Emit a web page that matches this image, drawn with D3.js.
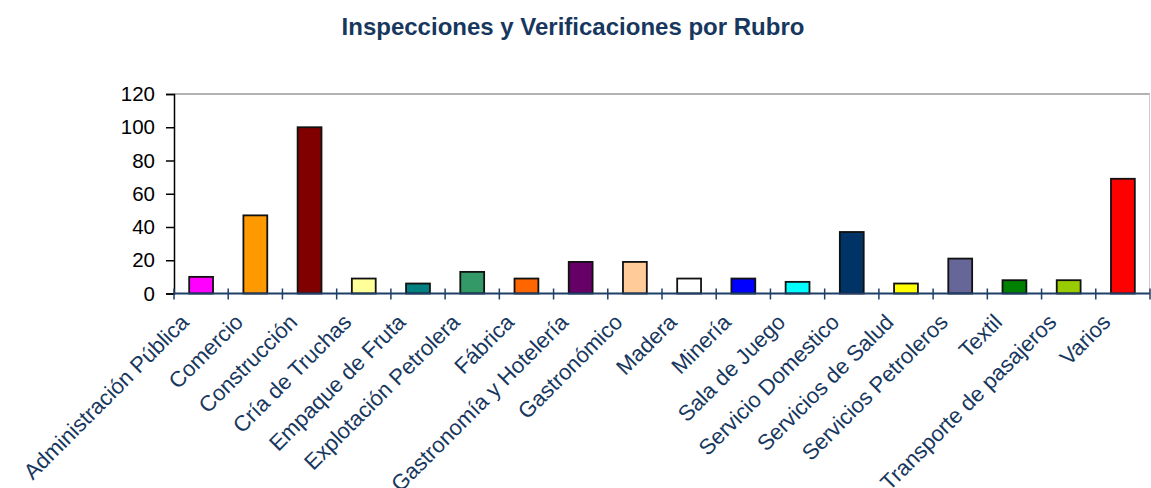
<!DOCTYPE html>
<html><head><meta charset="utf-8">
<script src="https://cdn.jsdelivr.net/npm/d3@7"></script>
<style>body{margin:0;background:#fff}svg{display:block}</style>
</head><body>
<script>
const categories = ["Administración Pública","Comercio","Construcción","Cría de Truchas","Empaque de Fruta","Explotación Petrolera","Fábrica","Gastronomía y Hotelería","Gastronómico","Madera","Minería","Sala de Juego","Servicio Domestico","Servicios de Salud","Servicios Petroleros","Textil","Transporte de pasajeros","Varios"];
const values = [10,47,100,9,6,13,9,19,19,9,9,7,37,6,21,8,8,69];
const colors = ["#FF00FF","#FF9900","#800000","#FFFF99","#008080","#339966","#FF6600","#660066","#FFCC99","#FFFFFF","#0000FF","#00FFFF","#003366","#FFFF00","#666699","#008000","#99CC00","#FF0000"];
const yTicks = [0,20,40,60,80,100,120];
const title = "Inspecciones y Verificaciones por Rubro";

const W = 1151, H = 488;
const mLeft = 174, mRight = 1150, mTop = 94, mBottom = 293.5;
const svg = d3.select("body").append("svg").attr("width", W).attr("height", H);

svg.append("text").attr("x", 573).attr("y", 35).attr("text-anchor", "middle")
  .attr("font-family", "Liberation Sans, Arial, sans-serif").attr("font-weight", "bold")
  .attr("font-size", 24).attr("fill", "#17375E").text(title);

const x = d3.scaleBand().domain(categories).range([mLeft, mRight]).paddingInner(0).paddingOuter(0);
const y = d3.scaleLinear().domain([0, 120]).range([mBottom, mTop]);

// plot border (top & right)
svg.append("line").attr("x1", mLeft).attr("x2", mRight).attr("y1", y(120)).attr("y2", y(120))
  .attr("stroke", "#999").attr("stroke-width", 1.5);
svg.append("line").attr("x1", mRight - 0.5).attr("x2", mRight - 0.5).attr("y1", y(120)).attr("y2", y(0))
  .attr("stroke", "#ccc").attr("stroke-width", 1);

// bars
const bw = x.bandwidth() * 0.44;
svg.append("g").selectAll("rect").data(categories).join("rect")
  .attr("x", (d) => x(d) + x.bandwidth() / 2 - bw / 2)
  .attr("width", bw)
  .attr("y", (d, i) => y(values[i]))
  .attr("height", (d, i) => y(0) - y(values[i]))
  .attr("fill", (d, i) => colors[i])
  .attr("stroke", "#111").attr("stroke-width", 1.8);

// y axis
const yAxis = svg.append("g").attr("transform", `translate(${mLeft},0)`)
  .call(d3.axisLeft(y).tickValues(yTicks).tickSize(8).tickPadding(11).tickFormat(d3.format("d")));
yAxis.select(".domain").attr("stroke", "#000").attr("stroke-width", 1.5);
yAxis.selectAll(".tick line").attr("stroke", "#000").attr("stroke-width", 1.5);
yAxis.selectAll("text").attr("font-family", "Liberation Sans, Arial, sans-serif").attr("font-size", 20.5).attr("fill", "#000");

// x axis line and ticks at category boundaries
const bounds = categories.map(c => x(c)).concat([mRight]);
svg.append("g").selectAll("line").data(bounds).join("line")
  .attr("x1", d => d).attr("x2", d => d).attr("y1", y(0) - 5).attr("y2", y(0) + 6)
  .attr("stroke", "#1F3F66").attr("stroke-width", 1.5);
svg.append("line").attr("x1", mLeft).attr("x2", mRight).attr("y1", y(0)).attr("y2", y(0))
  .attr("stroke", "#1F3F66").attr("stroke-width", 2);

// x labels
svg.append("g").selectAll("text").data(categories).join("text")
  .attr("transform", d => `translate(${x(d) + x.bandwidth() / 2 - 11},${y(0) + 30}) rotate(-45)`)
  .attr("text-anchor", "end")
  .attr("font-family", "Liberation Sans, Arial, sans-serif").attr("font-size", 22)
  .attr("fill", "#17375E").text(d => d);
</script>
</body></html>
